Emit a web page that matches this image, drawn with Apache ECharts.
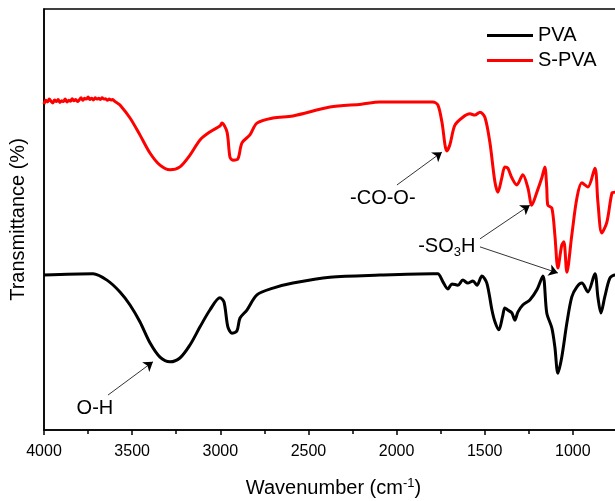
<!DOCTYPE html>
<html>
<head>
    <meta charset="utf-8">
    <title>FTIR PVA / S-PVA</title>
    <script src="https://cdn.jsdelivr.net/npm/echarts@6/dist/echarts.min.js"></script>
    <style>
        html, body { margin: 0; padding: 0; background: #fff; }
        #main { width: 615px; height: 501px; }
    </style>
</head>
<body>
<div id="main"></div>
<script type="text/javascript">
    // wavenumbers (cm-1) and transmittance (arbitrary offset units)
    var pvaWn = [4000, 3722, 3643, 3569, 3512, 3456, 3399, 3342, 3285, 3229, 3172, 3115, 3059, 3002,
        2979, 2957, 2934, 2906, 2888, 2849, 2792, 2701, 2588, 2378, 2095, 1794, 1766, 1737, 1709,
        1686, 1652, 1624, 1596, 1567, 1544, 1516, 1488, 1459, 1442, 1420, 1397, 1386, 1369, 1346,
        1329, 1312, 1284, 1244, 1204, 1170, 1148, 1119, 1102, 1085, 1063, 1034, 1006, 977, 949,
        915, 875, 858, 841, 819, 790, 761, 740];
    var pvaT = [36.8, 37.1, 35.6, 32.8, 29.7, 25.7, 20.7, 17.3, 16.2, 17.1, 20.2, 24.5, 28.5, 31.4,
        30.4, 24.5, 23.0, 23.5, 26.6, 28.5, 32.1, 33.7, 34.9, 36.3, 36.8, 37.1, 37.1, 35.2, 33.5,
        34.7, 34.4, 35.6, 34.9, 35.4, 34.4, 36.6, 34.9, 28.5, 25.7, 23.8, 27.3, 29.0, 28.5, 27.8,
        26.1, 28.0, 29.7, 30.9, 33.3, 36.6, 27.8, 24.2, 19.7, 13.5, 17.3, 25.4, 31.6, 34.0, 34.9,
        32.8, 37.1, 31.6, 27.8, 31.6, 36.1, 36.8, 36.5];

    var spvaWn = [4000, 3990, 3980, 3970, 3960, 3950, 3940, 3930, 3920, 3910, 3900, 3890, 3880, 3870,
        3860, 3850, 3840, 3830, 3820, 3810, 3800, 3790, 3780, 3770, 3760, 3750, 3740, 3730, 3720,
        3710, 3700, 3690, 3680, 3670, 3660, 3650, 3640, 3630, 3620, 3610, 3600, 3586, 3569, 3512,
        3456, 3399, 3342, 3285, 3229, 3172, 3115, 3059, 3002, 2991, 2962, 2945, 2928, 2900, 2877,
        2832, 2792, 2701, 2588, 2378, 2200, 2095, 1981, 1794, 1766, 1743, 1715, 1698, 1669, 1624,
        1584, 1556, 1527, 1499, 1471, 1442, 1425, 1403, 1386, 1369, 1346, 1318, 1284, 1255, 1233,
        1204, 1176, 1159, 1148, 1142, 1119, 1102, 1085, 1063, 1051, 1034, 1006, 977, 949, 915, 875,
        858, 836, 807, 778, 761, 740];
    var spvaT = [77.4, 78.3, 77.9, 78.6, 78.1, 77.7, 78.4, 78.0, 78.5, 77.8, 78.2, 78.0, 78.6, 77.9,
        78.3, 78.1, 78.7, 78.2, 78.5, 78.0, 78.4, 78.9, 78.3, 78.8, 78.6, 79.1, 78.5, 78.8, 78.4,
        78.9, 78.6, 78.8, 78.5, 78.9, 78.6, 78.7, 78.3, 78.6, 78.4, 78.5, 78.1, 77.7, 77.2, 74.1,
        70.1, 65.8, 62.9, 61.8, 62.5, 65.3, 68.9, 70.8, 72.2, 72.9, 70.8, 64.8, 64.1, 64.4, 68.2,
        70.1, 72.9, 74.1, 74.6, 76.7, 77.4, 77.9, 77.9, 77.9, 77.2, 73.2, 66.3, 67.7, 72.4, 74.3,
        75.1, 74.8, 75.5, 74.3, 68.4, 58.9, 56.5, 59.9, 62.5, 62.2, 59.9, 58.2, 60.6, 57.5, 53.4,
        56.5, 59.9, 62.5, 57.5, 53.4, 52.7, 46.3, 38.5, 43.9, 44.7, 37.5, 46.3, 55.1, 58.7, 57.7,
        62.2, 54.2, 46.8, 49.4, 56.3, 56.5, 56.0];

    var xTicks = { min: 500, max: 4000, interval: 500 };

    function zip(xs, ys) {
        return xs.map(function (x, i) { return [x, ys[i]]; });
    }

    var font = 'Liberation Sans, Arial, sans-serif';
    var chart = echarts.init(document.getElementById('main'));

    var option = {
        backgroundColor: '#fff',
        animation: false,
        textStyle: { fontFamily: font },
        grid: {
            left: 44,
            top: 9,
            bottom: 71,
            right: -46,
            outerBoundsMode: 'none',
            containLabel: false,
            show: true,
            borderColor: '#000',
            borderWidth: 1.5,
            backgroundColor: 'transparent'
        },
        legend: {
            orient: 'vertical',
            left: 487,
            top: 25,
            padding: 0,
            itemGap: 4,
            itemWidth: 46,
            itemHeight: 3,
            icon: 'rect',
            textStyle: { fontSize: 20, color: '#000', lineHeight: 21, fontFamily: font },
            data: ['PVA', 'S-PVA']
        },
        xAxis: {
            type: 'value',
            inverse: true,
            min: xTicks.min,
            max: xTicks.max,
            interval: xTicks.interval,
            name: 'Wavenumber (cm{sup|-1})',
            nameLocation: 'middle',
            nameGap: 47,
            nameTextStyle: {
                fontSize: 20,
                color: '#000',
                fontFamily: font,
                padding: [0, 38, 0, 0],
                rich: {
                    sup: { fontSize: 13, verticalAlign: 'top', padding: [0, 0, 9, 0], color: '#000' }
                }
            },
            axisLine: { lineStyle: { color: '#000', width: 1.5 } },
            axisTick: { show: true, inside: false, length: 5, lineStyle: { color: '#000', width: 1.5 } },
            minorTick: { show: true, splitNumber: 2, length: 4, lineStyle: { color: '#000', width: 1.5 } },
            axisLabel: {
                fontSize: 16, color: '#000', margin: 14, fontFamily: font,
                formatter: function (v) { return String(v); }
            },
            splitLine: { show: false },
            minorSplitLine: { show: false }
        },
        yAxis: {
            type: 'value',
            min: 0,
            max: 100,
            name: 'Transmittance (%)',
            nameLocation: 'middle',
            nameGap: 16,
            nameTextStyle: { fontSize: 20, color: '#000', fontFamily: font },
            axisLine: { show: true, lineStyle: { color: '#000', width: 1.5 } },
            axisTick: { show: false },
            axisLabel: { show: false },
            splitLine: { show: false }
        },
        series: [
            {
                name: 'PVA',
                type: 'line',
                data: zip(pvaWn, pvaT),
                showSymbol: false,
                smooth: 0.3,
                color: '#000',
                lineStyle: { width: 3, color: '#000' },
                markLine: {
                    silent: true,
                    symbol: ['none', 'arrow'],
                    symbolSize: 9,
                    lineStyle: { color: '#000', width: 0.8, type: 'solid' },
                    label: { show: false },
                    data: [
                        [{ coord: [3637, 8.3] }, { coord: [3382, 16.2] }]
                    ]
                },
                markPoint: {
                    symbol: 'circle',
                    symbolSize: 0,
                    label: { show: true, color: '#000', fontSize: 20, fontFamily: font, formatter: '{b}' },
                    data: [
                        { name: 'O-H', coord: [3711, 5.2] }
                    ]
                }
            },
            {
                name: 'S-PVA',
                type: 'line',
                data: zip(spvaWn, spvaT),
                showSymbol: false,
                smooth: 0.3,
                color: '#f00',
                lineStyle: { width: 3, color: '#f00' },
                markLine: {
                    silent: true,
                    symbol: ['none', 'arrow'],
                    symbolSize: 9,
                    lineStyle: { color: '#000', width: 0.8, type: 'solid' },
                    label: { show: false },
                    data: [
                        [{ coord: [1998, 58.2] }, { coord: [1743, 66.0] }],
                        [{ coord: [1527, 45.4] }, { coord: [1244, 53.4] }],
                        [{ coord: [1527, 43.5] }, { coord: [1085, 37.3] }]
                    ]
                },
                markPoint: {
                    symbol: 'circle',
                    symbolSize: 0,
                    label: {
                        show: true, color: '#000', fontSize: 20, fontFamily: font,
                        rich: {
                            sub: { fontSize: 13, color: '#000', padding: [12, 0, 0, 0] }
                        }
                    },
                    data: [
                        { name: 'co', coord: [2078, 55.1], label: { formatter: '-CO-O-' } },
                        { name: 'so', coord: [1715, 43.5], label: { formatter: '-SO{sub|3}H' } }
                    ]
                }
            }
        ]
    };

    chart.setOption(option);
</script>
</body>
</html>
